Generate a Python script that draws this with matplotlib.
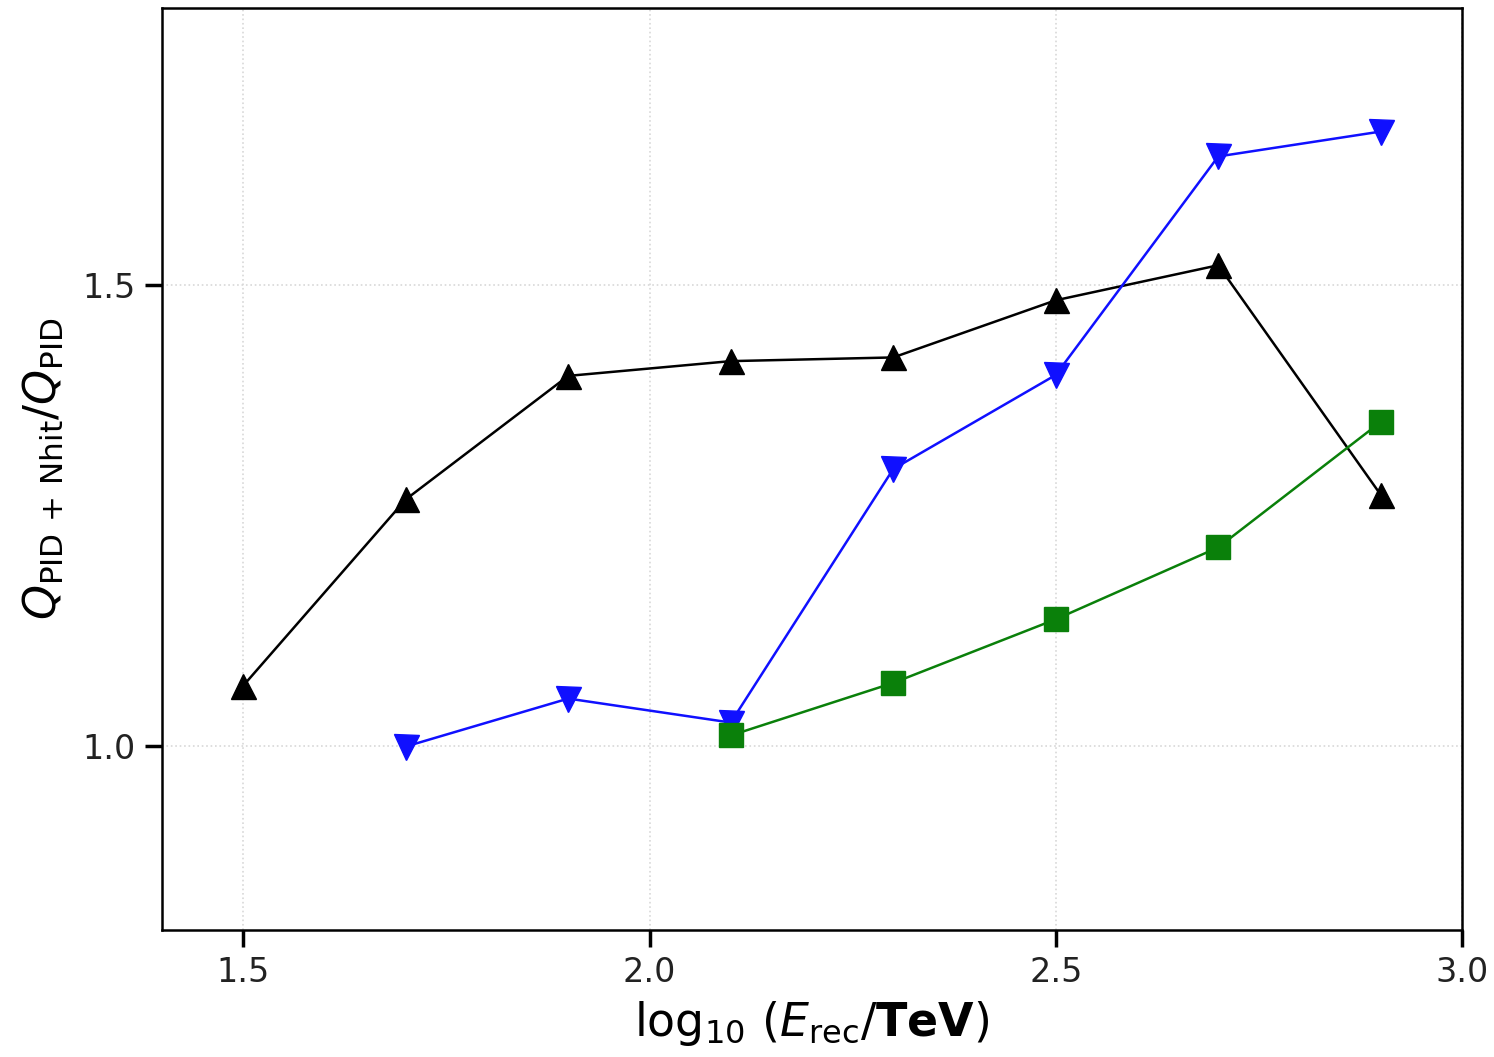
import numpy as np
import matplotlib
matplotlib.use("Agg")
import matplotlib.pyplot as plt

# energy bins, log10(E_rec/TeV)
x_black = [1.5, 1.7, 1.9, 2.1, 2.3, 2.5, 2.7, 2.9]
y_black = [1.065, 1.267, 1.401, 1.417, 1.421, 1.483, 1.521, 1.272]

x_blue = [1.7, 1.9, 2.1, 2.3, 2.5, 2.7, 2.9]
y_blue = [0.999, 1.051, 1.025, 1.300, 1.402, 1.639, 1.666]

x_green = [2.1, 2.3, 2.5, 2.7, 2.9]
y_green = [1.011, 1.068, 1.137, 1.215, 1.351]

xticks = [1.5, 2.0, 2.5, 3.0]
yticks = [1.0, 1.5]

fig = plt.figure(figsize=(14.94, 10.57), dpi=100)
ax = fig.add_axes([162/1494, 1 - 930/1057, 1300/1494, 922/1057])

ax.plot(x_black, y_black, color='k', marker='^', ms=18, lw=1.8)
ax.plot(x_blue, y_blue, color='#1010ff', marker='v', ms=18, lw=1.8)
ax.plot(x_green, y_green, color='#0a800a', marker='s', ms=17, lw=1.8)

ax.set_xlim(1.4, 3.0)
ax.set_ylim(0.8, 1.8)
ax.set_xticks(xticks)
ax.set_yticks(yticks)
ax.grid(True, linestyle=':', color='#d8d8d8', lw=1.2)
ax.tick_params(direction='out', length=12, width=2.5, labelsize=24, pad=7,
               labelcolor='#222222')
for sp in ax.spines.values():
    sp.set_linewidth(1.8)

ax.set_xlabel(r'$\log_{10}\,(E_{\rm rec}/\mathbf{TeV})$', fontsize=33, labelpad=7)
ax.set_ylabel(r'$Q_{\rm PID\,+\,Nhit}/Q_{\rm PID}$', fontsize=32, labelpad=12)

fig.savefig('out.png', dpi=100)
